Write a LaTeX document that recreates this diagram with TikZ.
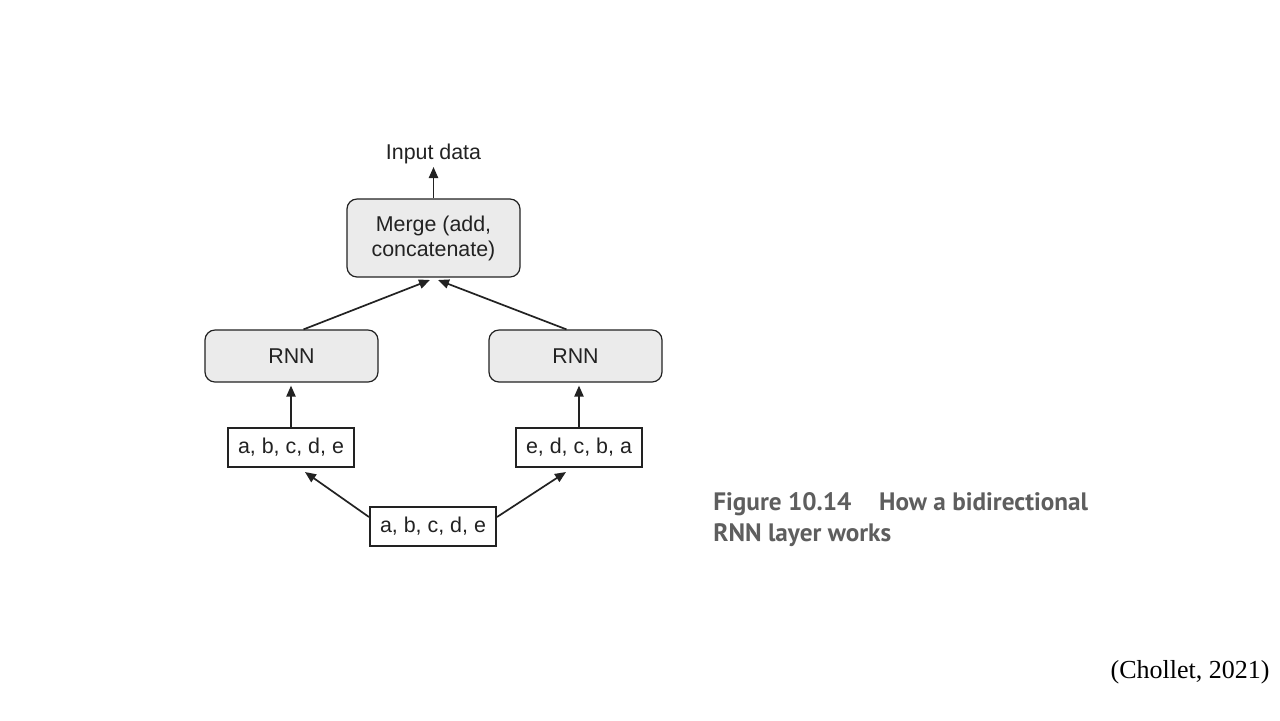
\documentclass[tikz,border=0pt]{standalone}
\usepackage{fontspec}
\setmainfont{Liberation Sans}
\newfontfamily\capfont{PT Sans}
\newfontfamily\citefont{Liberation Serif}
\usetikzlibrary{arrows.meta}
\definecolor{boxfill}{HTML}{EBEBEB}
\definecolor{linecol}{HTML}{222222}
\definecolor{capcol}{HTML}{5E5E5E}
\tikzset{
  rnnbox/.style={draw=linecol, line width=0.6pt, fill=boxfill, rounded corners=5pt, minimum width=86.5pt, minimum height=26pt, inner sep=0pt, font=\fontsize{10.7}{12.5}\selectfont, text=linecol},
  seqbox/.style={draw=linecol, line width=1pt, fill=white, minimum width=63pt, minimum height=19.5pt, inner sep=0pt, font=\fontsize{10.7}{12}\selectfont, text=linecol},
  conn/.style={draw=linecol, line width=0.85pt, -{Triangle[length=5.5pt, width=4.6pt]}},
  lbl/.style={font=\fontsize{10.7}{12}\selectfont, text=linecol, inner sep=0pt}
}
\begin{document}
\begin{tikzpicture}[x=0.5pt, y=-0.5pt]
\useasboundingbox (0,0) rectangle (1280,720);
\fill[white] (0,0) rectangle (1280,720);
\node[lbl] (inp) at (433.5,154) {Input data};
\node[rnnbox, minimum height=39pt, align=center] (merge) at (433.5,238) {Merge (add,\\concatenate)};
\node[rnnbox] (rnnl) at (291.5,356) {RNN};
\node[rnnbox] (rnnr) at (575.5,356) {RNN};
\node[seqbox] (seql) at (291,447) {a, b, c, d, e};
\node[seqbox] (seqr) at (579,447) {e, d, c, b, a};
\node[seqbox] (seqb) at (433,526) {a, b, c, d, e};
\coordinate (mbl) at (430,280);
\coordinate (mbr) at (438,280);
\coordinate (inpb) at (433.5,167);
\coordinate (lt) at (305,472);
\coordinate (rt) at (566,472);
\draw[conn] (merge.north) -- (inpb);
\draw[conn] ([xshift=6pt]rnnl.north) -- (mbl);
\draw[conn] ([xshift=-4.5pt]rnnr.north) -- (mbr);
\draw[conn] (seql.north) -- ([yshift=-1.5pt]seql.north |- rnnl.south);
\draw[conn] (seqr.north) -- ([yshift=-1.5pt]seqr.north |- rnnr.south);
\draw[conn] ([yshift=4.5pt]seqb.west) -- (lt);
\draw[conn] ([yshift=4.5pt]seqb.east) -- (rt);
\node[anchor=base west, inner sep=0pt, text=capcol, font=\capfont\bfseries\fontsize{12.6}{15.5}\selectfont, align=left] (cap) at (713,541) {Figure 10.14\hspace{1.1em}How a bidirectional\\RNN layer works};
\node[anchor=base east, inner sep=0pt, font=\citefont\fontsize{13}{15}\selectfont] (cite) at (1270,678) {(Chollet, 2021)};
\end{tikzpicture}
\end{document}
